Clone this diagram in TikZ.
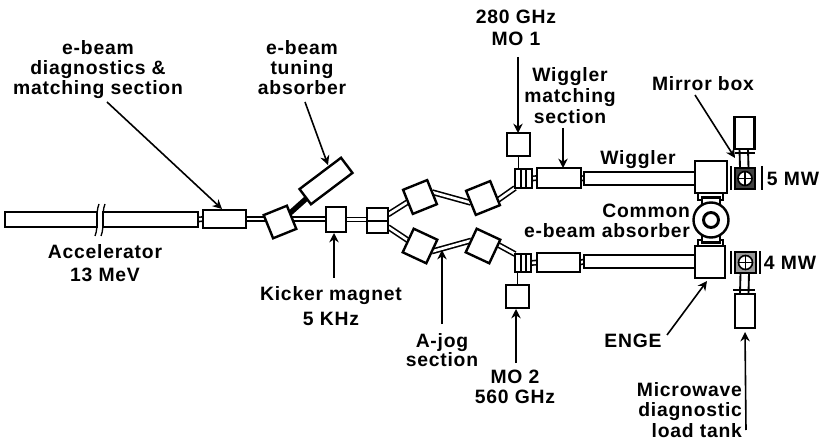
\documentclass[tikz,border=0pt]{standalone}
\usepackage{fontspec}
\setmainfont[LetterSpace=4]{Liberation Sans}
\usetikzlibrary{arrows.meta,calc}
\pgfdeclarelayer{bg}
\pgfsetlayers{bg,main}
\tikzset{
  x=0.75pt,y=-0.75pt,
  box/.style n args={2}{draw=black,fill=white,line width=1.8pt,inner sep=0pt,outer sep=0pt,
    minimum width=#1*0.75pt,minimum height=#2*0.75pt},
  label/.style={inner sep=0pt,outer sep=0pt,font=\fontsize{14.5}{15}\selectfont\bfseries,align=center,text=black},
  pipe/.style={draw=black,line width=1.2pt,double=white,double distance=2pt},
  thickline/.style={draw=black,line width=1.4pt},
  arrow/.style={draw=black,line width=1.2pt,-{Stealth[length=7pt,width=7pt]}}
}
\begin{document}
\begin{tikzpicture}
\useasboundingbox (0,0) rectangle (829,442);
% accelerator and first section
\node[box={92}{15}] (acc1) at (51,219.5) {};
\node[box={95}{15}] (acc2) at (150.5,219.5) {};
\node[box={43}{18}] (diag) at (224.5,219) {};
\node[box={25}{25}] (dip) at (280,222) [rotate=22] {};
\node[box={52}{19}] (abs) at (326,181) [rotate=37] {};
\node[box={20}{25}] (kick) at (336,219.5) {};
\node[box={21}{13}] (yU) at (377.5,214.5) {};
\node[box={21}{12}] (yL) at (377.5,227) {};
% dogleg magnets
\node[box={26}{26}] (U1) at (420,197) [rotate=22] {};
\node[box={26}{26}] (U2) at (483,198) [rotate=22] {};
\node[box={26}{26}] (L1) at (420,246) [rotate=-25] {};
\node[box={26}{26}] (L2) at (483,246) [rotate=-25] {};
% collars, MO boxes, matching sections
\node[box={17}{19}] (colU) at (523.5,178.5) {};
\node[box={16}{18}] (colL) at (523,263) {};
\node[box={23}{23}] (mo1) at (518.5,144.5) {};
\node[box={23}{23}] (mo2) at (517.5,296.5) {};
\node[box={44}{20}] (matU) at (559,178) {};
\node[box={43}{19}] (matL) at (558.5,262.5) {};
\node[box={111}{13}] (wigU) at (639.5,178.5) {};
\node[box={111}{13}] (wigL) at (639.5,261.5) {};
% ENGE magnets and absorber
\node[box={25}{7}] (bandU) at (710.5,196.5) {};
\node[box={25}{6}] (bandL) at (710.5,243) {};
\node[box={18}{45}] (stem) at (711,220) {};
\node[box={32}{32}] (engeU) at (711,177) {};
\node[box={30}{32}] (engeL) at (710,262) {};
\node[box={35}{35},circle,minimum size=26.25pt] (ring) at (711,220) {};
\node[box={15}{15},circle,minimum size=11.25pt,line width=2.2pt] (core) at (711,220) {};
% mirror boxes and load tanks
\node[box={20}{32}] (tankU) at (744.5,133) {};
\node[box={20}{34}] (tankL) at (745,311) {};
\node[box={20}{21},fill=black!75] (mbU) at (745,178.5) {};
\node[box={21}{21},fill=black!40] (mbL) at (745.5,262.5) {};
\node[box={14}{14},circle,minimum size=10.5pt,line width=1.2pt] (mcU) at (745,178.5) {};
\node[box={14}{14},circle,minimum size=10.5pt,line width=1.2pt] (mcL) at (745.5,262.5) {};
\draw[thickline] (mcU.north)--(mcU.south) (mcU.west)--(mcU.east);
\draw[thickline] (mcL.north)--(mcL.south) (mcL.west)--(mcL.east);
% pipes behind the boxes
\begin{pgfonlayer}{bg}
  \draw[pipe] (acc2.east) -- (diag.west);
  \draw[pipe] (diag.east) -- (diag.east -| kick.west);
  \draw[pipe] (kick.east) -- (kick.east -| yU.west);
  \draw[pipe] (yU.east) -- (U1.west);
  \draw[pipe] (yL.east) -- (L1.west);
  \draw[pipe] (U1.east) -- (U2.west);
  \draw[pipe] (L1.east) -- (L2.west);
  \draw[pipe] (U2.-30) -- (colU.south west);
  \draw[pipe] (L2.30) -- (colL.north west);
  \draw[pipe] (colU.east) -- (matU.west);
  \draw[pipe] (colL.east) -- (matL.west);
  \draw[pipe] (matU.east) -- (wigU.west);
  \draw[pipe] (matL.east) -- (wigL.west);
  \draw[draw=black,line width=4pt] (dip.center) -- (abs.center);
  \draw[thickline] (mo1.south) -- (mo1.south |- colU.north);
  \draw[thickline] (mo2.north) -- (mo2.north |- colL.south);
  \draw[thickline] ($(tankU.south)+(-5,0)$) -- ($(mbU.north)+(-5,0)$);
  \draw[thickline] ($(tankU.south)+(3.5,0)$) -- ($(mbU.north)+(3.5,0)$);
  \draw[thickline] ($(tankL.north)+(-5,0)$) -- ($(mbL.south)+(-5,0)$);
  \draw[thickline] ($(tankL.north)+(3.5,0)$) -- ($(mbL.south)+(3.5,0)$);
\end{pgfonlayer}
% details
\draw[thickline] (521,169) -- (521,188) (526,169) -- (526,188);
\draw[thickline] (521,254) -- (521,272) (526,254) -- (526,272);
\draw[thickline] (735,153) -- (755,153);
\draw[thickline] (733,290) -- (755,290);
\draw[thickline] (695,161) -- (727,161);
\draw[thickline] (731,166) -- (731,190) (762,166) -- (762,190);
\draw[thickline] (731,251) -- (731,274) (760,251) -- (760,274);
\draw[draw=black,line width=1pt] (99,204) .. controls (95,214) and (99,226) .. (95,236);
\draw[draw=black,line width=1pt] (105,204) .. controls (101,214) and (105,226) .. (101,236);
% labels
\node[label] (tdiag) at (98,70) {e-beam\\diagnostics \&\\matching section};
\node[label] (ttune) at (302,68) {e-beam\\tuning\\absorber};
\node[label] (tacc) at (105,263) {Accelerator\\[2.2pt]13 MeV};
\node[label] (tkick) at (331,306) {Kicker magnet\\[3.7pt]5 KHz};
\node[label] (tjog) at (442,350) {A-jog\\[-0.7pt]section};
\node[label] (tmo1) at (516,28) {280 GHz\\[1.5pt]MO 1};
\node[label] (tmo2) at (515,387) {MO 2\\560 GHz};
\node[label] (tmat) at (570,96) {Wiggler\\[0.7pt]matching\\[0.7pt]section};
\node[label] (tmir) at (703,84) {Mirror box};
\node[label] (twig) at (638,160) {Wiggler};
\node[label,align=right,anchor=east] (tcom) at (690,221) {Common\\e-beam absorber};
\node[label] (t5) at (793,179) {5 MW};
\node[label] (t4) at (790,263) {4 MW};
\node[label] (tenge) at (633,341) {ENGE};
\node[label,align=right,anchor=east] (tmw) at (742,410) {Microwave\\[0.5pt]diagnostic\\[0.5pt]load tank};
% arrows
\coordinate (a1) at (107,102); \coordinate (a1t) at (222,209);
\coordinate (a2) at (305,102); \coordinate (a2t) at (328,165);
\coordinate (a3) at (334,278); \coordinate (a3t) at (334,233);
\coordinate (a4) at (442,324); \coordinate (a4t) at (442,250);
\coordinate (a5) at (518,57);
\coordinate (a6) at (516,363); \coordinate (a6t) at (516,309);
\coordinate (a7) at (563,128);
\coordinate (a8) at (695,95); \coordinate (a8t) at (735,158);
\coordinate (a9) at (667,335); \coordinate (a9t) at (707,281);
\coordinate (a10) at (746,430); \coordinate (a10t) at (745,332);
\draw[arrow] (a1) -- (a1t);
\draw[arrow] (a2) -- (a2t);
\draw[arrow] (a3) -- (a3t);
\draw[arrow] (a4) -- (a4t);
\draw[arrow] (a5) -- (a5 |- mo1.north);
\draw[arrow] (a6) -- (a6t);
\draw[arrow] (a7) -- (a7 |- matU.north);
\draw[arrow] (a8) -- (a8t);
\draw[arrow] (a9) -- (a9t);
\draw[arrow] (a10) -- (a10t);
\end{tikzpicture}
\end{document}
